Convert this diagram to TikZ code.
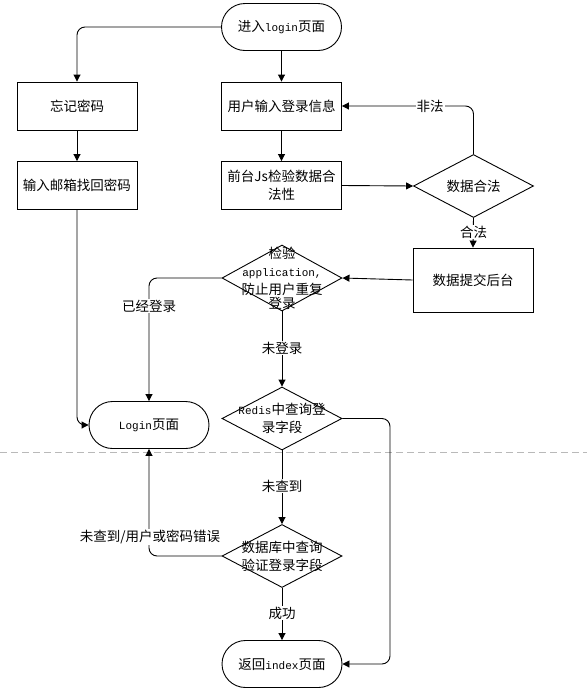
\documentclass[tikz,border=0pt]{standalone}
\usepackage{fontspec}
\setmainfont{Noto Sans CJK SC}
\newfontfamily\lat{Liberation Mono}
\usetikzlibrary{shapes.geometric,shapes.misc,arrows.meta}
\newcommand{\lt}[1]{{\lat\fontsize{11}{18}\selectfont #1}}
\begin{document}
\begin{tikzpicture}[x=1pt,y=-1pt,
 every node/.style={font=\fontsize{13.5}{18}\selectfont, align=center},
 box/.style={draw, line width=0.9pt, minimum width=120pt, minimum height=48pt, inner sep=0},
 term/.style={draw, rounded rectangle, line width=0.9pt, minimum width=120pt, minimum height=47pt, inner sep=0},
 dia/.style={draw, diamond, line width=0.9pt, minimum width=120pt, minimum height=63pt, inner sep=0},
 lbl/.style={fill=white, inner sep=1pt},
 arr/.style={draw, line width=0.9pt, -{Triangle[length=7pt,width=7pt]}, rounded corners=8pt},
]
\useasboundingbox (0,0) rectangle (587,697);
\fill[white] (0,0) rectangle (587,697);
\draw[gray!55, line width=0.8pt, dash pattern=on 7pt off 4pt] (0,452) -- (587,452);

% nodes
\node[term] (start) at (281.5,27) {进入\lt{login}页面};
\node[box] (forget) at (77,106) {忘记密码};
\node[box] (email) at (77,185.5) {输入邮箱找回密码};
\node[box] (input) at (281.5,106) {用户输入登录信息};
\node[box] (js) at (281.5,185.5) {前台Js检验数据合\\法性};
\node[dia] (valid) at (473.5,186) {};
\node (validt) at (valid.center) {数据合法};
\node[box, minimum height=64pt] (submit) at (473,280) {数据提交后台};
\node[dia, minimum height=66pt] (check) at (282,278) {};
\node (checkt) at (check.center) {检验\\\lt{application,}\\防止用户重复\\[-4pt]登录};
\node[term] (login) at (149,425) {\lt{Login}页面};
\node[dia] (redis) at (282,418.5) {};
\node (redist) at (redis.center) {\lt{Redis}中查询登\\录字段};
\node[dia] (db) at (282,556) {};
\node (dbt) at (db.center) {数据库中查询\\验证登录字段};
\node[term] (ret) at (282,664) {返回\lt{index}页面};

\coordinate (rc) at (390,418.5);

% connectors
\draw[arr] (start.west) -| (forget.north);
\draw[arr] (start.south) -- (input.north);
\draw[arr] (forget.south) -- (email.north);
\draw[arr] (input.south) -- (js.north);
\draw[arr] (js.east) -- (valid.west);
\draw[arr] (valid.north) |- (input.east);
\draw[arr] (valid.south) -- (submit.north);
\draw[arr] (submit.west) -- (check.east);
\draw[arr] (check.west) -| (login.north);
\draw[arr] (check.south) -- (redis.north);
\draw[arr] (email.south) |- (login.west);
\draw[arr] (redis.south) -- (db.north);
\draw[arr] (redis.east) -- (rc) |- (ret.east);
\draw[arr] (db.west) -| (login.south);
\draw[arr] (db.south) -- (ret.north);

% labels
\node[lbl] (l1) at (430,106) {非法};
\node[lbl] (l2) at (473.5,232) {合法};
\node[lbl] (l3) at (149,306) {已经登录};
\node[lbl] (l4) at (282,348) {未登录};
\node[lbl] (l5) at (282,486) {未查到};
\node[lbl] (l6) at (150,537) {未查到/用户或密码错误};
\node[lbl] (l7) at (282,613) {成功};
\end{tikzpicture}
\end{document}
